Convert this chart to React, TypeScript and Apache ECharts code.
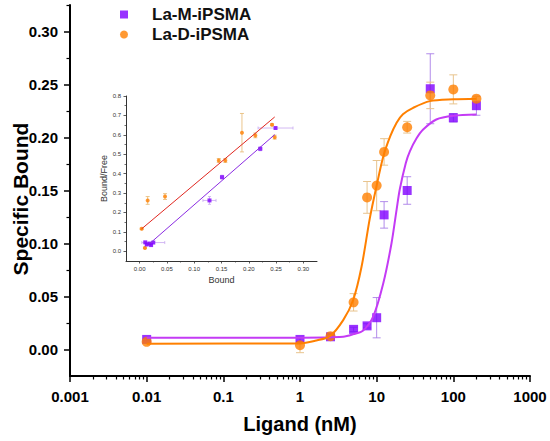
import React, { useEffect, useRef } from "react";
import * as echarts from "echarts";

// ---- Main chart data (Ligand concentration in nM vs Specific Bound) ----
const ligandNM = [0.01, 1, 2.5, 5, 7.5, 10, 12.5, 25, 50, 100, 200];
const laMBound = [0.0095, 0.0095, 0.012, 0.019, 0.0223, 0.03, 0.127, 0.15, 0.246, 0.2186, 0.23];
const laMErr = [0.001, 0.002, 0.002, 0.002, 0.002, 0.019, 0.0125, 0.013, 0.033, 0.004, 0.009];
const laDBound = [0.0072, 0.004, 0.0126, 0.0445, 0.1435, 0.1546, 0.1864, 0.2097, 0.2397, 0.2454, 0.2366];
const laDErr = [0.001, 0.007, 0.002, 0.0082, 0.015, 0.0237, 0.0125, 0.0055, 0.0125, 0.0137, 0.002];

// fitted curves
const laMFitX = [0.01, 1, 3.66, 5, 6.67, 9, 12.2, 15.6, 18.2, 20, 24, 27.1, 33, 40.4, 60, 100, 200];
const laMFitY = [0.0112, 0.0112, 0.012, 0.0145, 0.018, 0.031, 0.0625, 0.1, 0.132, 0.151, 0.176, 0.187, 0.199, 0.2075, 0.217, 0.2205, 0.2217];
const laDFitX = [0.01, 1, 1.57, 2.45, 3.66, 4.94, 6.35, 8.15, 9.95, 12.2, 15, 18.2, 22, 29.9, 49.4, 100, 200];
const laDFitY = [0.0055, 0.0057, 0.0082, 0.0126, 0.0277, 0.0467, 0.078, 0.124, 0.154, 0.182, 0.201, 0.214, 0.222, 0.228, 0.2343, 0.236, 0.2366];

// axis ticks
const xMinorTicks = [
  0.002, 0.003, 0.004, 0.005, 0.006, 0.007, 0.008, 0.009,
  0.02, 0.03, 0.04, 0.05, 0.06, 0.07, 0.08, 0.09,
  0.2, 0.3, 0.4, 0.5, 0.6, 0.7, 0.8, 0.9,
  2, 3, 4, 5, 6, 7, 8, 9,
  20, 30, 40, 50, 60, 70, 80, 90,
  200, 300, 400, 500, 600, 700, 800, 900,
];
const yTicks = [0, 0.05, 0.1, 0.15, 0.2, 0.25, 0.3];
const yMinorTicks = [0.025, 0.075, 0.125, 0.175, 0.225, 0.275, 0.325];

// ---- Inset (Scatchard plot) data ----
const dBoundX = [0.0037, 0.0097, 0.0147, 0.0465, 0.145, 0.157, 0.1875, 0.212, 0.2426, 0.2475];
const dRatioY = [0.1156, 0.0175, 0.262, 0.282, 0.468, 0.468, 0.611, 0.597, 0.652, 0.588];
const dRatioErr = [0.004, 0.004, 0.02, 0.015, 0.01, 0.01, 0.099, 0.012, 0.005, 0.01];
const mBoundX = [0.0103, 0.013, 0.018, 0.021, 0.025, 0.128, 0.151, 0.221, 0.249];
const mRatioY = [0.046, 0.035, 0.04, 0.032, 0.045, 0.262, 0.382, 0.528, 0.635];
const mBoundErr = [0.002, 0.002, 0.002, 0.002, 0.021, 0.012, 0.003, 0.003, 0.032];
const mRatioErr = [0.005, 0.005, 0.005, 0.005, 0.005, 0.02, 0.01, 0.01, 0.005];
const dLineX = [0.0037, 0.2475];
const dLineY = [0.1156, 0.692];
const mLineX = [0.0177, 0.2475];
const mLineY = [0.038, 0.601];

const insetXTicks = [0, 0.05, 0.1, 0.15, 0.2, 0.25, 0.3];
const insetXMinor = [0.025, 0.075, 0.125, 0.175, 0.225, 0.275];
const insetYTicks = [0, 0.1, 0.2, 0.3, 0.4, 0.5, 0.6, 0.7, 0.8];
const insetYMinor = [0.05, 0.15, 0.25, 0.35, 0.45, 0.55, 0.65, 0.75];

const FONT = "'Liberation Sans', Arial, sans-serif";
const PURPLE = "#7f00ff";
const PURPLE_FIT = "#c43bf5";
const ORANGE = "#ff8000";

const zip = (a: number[], b: number[]) => a.map((v, i) => [v, b[i]]);

function errorBars(
  name: string,
  xs: number[],
  ys: number[],
  errs: number[],
  dir: "v" | "h",
  color: string,
  xi: number,
  yi: number,
  cap: number,
  width: number
) {
  return {
    type: "custom",
    name,
    xAxisIndex: xi,
    yAxisIndex: yi,
    silent: true,
    data: xs.map((x, i) => [x, ys[i], errs[i]]),
    encode: { x: 0, y: 1 },
    renderItem: (_p: any, api: any) => {
      const x = api.value(0);
      const y = api.value(1);
      const e = api.value(2);
      const a = dir === "v" ? api.coord([x, y + e]) : api.coord([x - e, y]);
      const b = dir === "v" ? api.coord([x, y - e]) : api.coord([x + e, y]);
      const style = { stroke: color, lineWidth: width };
      const caps =
        dir === "v"
          ? [
              { type: "line", shape: { x1: a[0] - cap, y1: a[1], x2: a[0] + cap, y2: a[1] }, style },
              { type: "line", shape: { x1: b[0] - cap, y1: b[1], x2: b[0] + cap, y2: b[1] }, style },
            ]
          : [
              { type: "line", shape: { x1: a[0], y1: a[1] - cap, x2: a[0], y2: a[1] + cap }, style },
              { type: "line", shape: { x1: b[0], y1: b[1] - cap, x2: b[0], y2: b[1] + cap }, style },
            ];
      return {
        type: "group",
        children: [
          { type: "line", shape: { x1: a[0], y1: a[1], x2: b[0], y2: b[1] }, style },
          ...caps,
        ],
      };
    },
  };
}

export default function App() {
  const ref = useRef<HTMLDivElement>(null);

  useEffect(() => {
    if (!ref.current) return;
    const chart = echarts.init(ref.current, undefined, { renderer: "svg" });

    const mainLabel = { fontFamily: FONT, fontSize: 15, fontWeight: "bold", color: "#000" };
    const insetLabel = { fontFamily: FONT, fontSize: 6, color: "#333" };

    const option: any = {
      animation: false,
      backgroundColor: "#fff",
      textStyle: { fontFamily: FONT },
      legend: {
        orient: "vertical",
        left: 115,
        top: 1,
        itemWidth: 8,
        itemHeight: 8,
        itemGap: 3,
        data: ["La-M-iPSMA", "La-D-iPSMA"],
        textStyle: { fontFamily: FONT, fontSize: 17, fontWeight: "bold", color: "#111", padding: [0, 0, 0, 19] },
      },
      graphic: [
        {
          type: "text",
          x: 20,
          y: 199,
          rotation: Math.PI / 2,
          style: {
            text: "Specific Bound",
            fontFamily: FONT,
            fontSize: 21,
            fontWeight: "bold",
            fill: "#000",
            align: "center",
            verticalAlign: "middle",
          },
        },
      ],
      grid: [
        { left: 70, right: 20, top: 5, bottom: 65 },
        { left: 126, right: 233, top: 96, bottom: 180 },
      ],
      xAxis: [
        {
          type: "log",
          logBase: 10,
          gridIndex: 0,
          position: "bottom",
          min: 0.001,
          max: 1000,
          splitNumber: 6,
          name: "Ligand (nM)",
          nameLocation: "middle",
          nameGap: 38,
          nameTextStyle: { fontFamily: FONT, fontSize: 20, fontWeight: "bold", color: "#000" },
          axisLine: { onZero: false, lineStyle: { color: "#000", width: 2 } },
          axisTick: { length: 6, lineStyle: { color: "#000", width: 1.5 } },
          axisLabel: { ...mainLabel, margin: 13, formatter: (v: number) => String(v) },
          splitLine: { show: false },
        },
        {
          type: "log",
          logBase: 10,
          gridIndex: 0,
          position: "bottom",
          min: 0.001,
          max: 1000,
          axisLine: { show: false, onZero: false },
          axisTick: { length: 3.5, customValues: xMinorTicks, lineStyle: { color: "#000", width: 1.2 } },
          axisLabel: { show: false },
          splitLine: { show: false },
        },
        {
          type: "value",
          gridIndex: 1,
          position: "bottom",
          min: -0.025,
          max: 0.325,
          name: "Bound",
          nameLocation: "middle",
          nameGap: 14,
          nameTextStyle: { fontFamily: FONT, fontSize: 9, color: "#333" },
          axisLine: { onZero: false, lineStyle: { color: "#333", width: 1 } },
          axisTick: { length: 2.5, customValues: insetXTicks, lineStyle: { color: "#333", width: 0.8 } },
          axisLabel: { ...insetLabel, margin: 5, customValues: insetXTicks, formatter: (v: number) => v.toFixed(2) },
          splitLine: { show: false },
        },
        {
          type: "value",
          gridIndex: 1,
          position: "bottom",
          min: -0.025,
          max: 0.325,
          axisLine: { show: false, onZero: false },
          axisTick: { length: 1.5, customValues: insetXMinor, lineStyle: { color: "#333", width: 0.7 } },
          axisLabel: { show: false },
          splitLine: { show: false },
        },
      ],
      yAxis: [
        {
          type: "value",
          gridIndex: 0,
          position: "left",
          min: -0.025,
          max: 0.325,
          axisLine: { onZero: false, lineStyle: { color: "#000", width: 2 } },
          axisTick: { length: 6, customValues: yTicks, lineStyle: { color: "#000", width: 1.5 } },
          axisLabel: { ...mainLabel, margin: 12, customValues: yTicks, formatter: (v: number) => v.toFixed(2) },
          splitLine: { show: false },
        },
        {
          type: "value",
          gridIndex: 0,
          position: "left",
          min: -0.025,
          max: 0.325,
          axisLine: { show: false, onZero: false },
          axisTick: { length: 3.5, customValues: yMinorTicks, lineStyle: { color: "#000", width: 1.2 } },
          axisLabel: { show: false },
          splitLine: { show: false },
        },
        {
          type: "value",
          gridIndex: 1,
          position: "left",
          min: -0.05,
          max: 0.8,
          name: "Bound/Free",
          nameLocation: "middle",
          nameGap: 15,
          nameTextStyle: { fontFamily: FONT, fontSize: 9, color: "#333" },
          axisLine: { onZero: false, lineStyle: { color: "#333", width: 1 } },
          axisTick: { length: 2.5, customValues: insetYTicks, lineStyle: { color: "#333", width: 0.8 } },
          axisLabel: { ...insetLabel, margin: 5, customValues: insetYTicks, formatter: (v: number) => v.toFixed(1) },
          splitLine: { show: false },
        },
        {
          type: "value",
          gridIndex: 1,
          position: "left",
          min: -0.05,
          max: 0.8,
          axisLine: { show: false, onZero: false },
          axisTick: { length: 1.5, customValues: insetYMinor, lineStyle: { color: "#333", width: 0.7 } },
          axisLabel: { show: false },
          splitLine: { show: false },
        },
      ],
      series: [
        errorBars("La-M err", ligandNM, laMBound, laMErr, "v", "rgba(165,120,230,0.85)", 0, 0, 4, 1),
        errorBars("La-D err", ligandNM, laDBound, laDErr, "v", "#e8c48e", 0, 0, 4, 1),
        {
          type: "line",
          name: "La-M fit",
          xAxisIndex: 0,
          yAxisIndex: 0,
          data: zip(laMFitX, laMFitY),
          smooth: 0.3,
          showSymbol: false,
          symbol: "none",
          lineStyle: { color: PURPLE_FIT, width: 2 },
          silent: true,
        },
        {
          type: "line",
          name: "La-D fit",
          xAxisIndex: 0,
          yAxisIndex: 0,
          data: zip(laDFitX, laDFitY),
          smooth: 0.3,
          showSymbol: false,
          symbol: "none",
          lineStyle: { color: ORANGE, width: 2 },
          silent: true,
        },
        {
          type: "scatter",
          name: "La-M-iPSMA",
          xAxisIndex: 0,
          yAxisIndex: 0,
          symbol: "rect",
          symbolSize: 9,
          itemStyle: { color: PURPLE },
          data: zip(ligandNM, laMBound),
        },
        {
          type: "scatter",
          name: "La-D-iPSMA",
          xAxisIndex: 0,
          yAxisIndex: 0,
          symbol: "circle",
          symbolSize: 10,
          itemStyle: { color: ORANGE },
          data: zip(ligandNM, laDBound),
        },
        // inset
        {
          type: "line",
          name: "La-D Scatchard fit",
          xAxisIndex: 2,
          yAxisIndex: 2,
          data: zip(dLineX, dLineY),
          showSymbol: false,
          symbol: "none",
          lineStyle: { color: "#e0261f", width: 1 },
          silent: true,
        },
        {
          type: "line",
          name: "La-M Scatchard fit",
          xAxisIndex: 2,
          yAxisIndex: 2,
          data: zip(mLineX, mLineY),
          showSymbol: false,
          symbol: "none",
          lineStyle: { color: "#8a2be2", width: 1 },
          silent: true,
        },
        errorBars("La-D inset err", dBoundX, dRatioY, dRatioErr, "v", "#e6b870", 2, 2, 2, 0.8),
        errorBars("La-M inset xerr", mBoundX, mRatioY, mBoundErr, "h", "#c8a8f0", 2, 2, 1.5, 0.8),
        errorBars("La-M inset yerr", mBoundX, mRatioY, mRatioErr, "v", "#c8a8f0", 2, 2, 1.5, 0.8),
        {
          type: "scatter",
          name: "La-D Scatchard",
          xAxisIndex: 2,
          yAxisIndex: 2,
          symbol: "circle",
          symbolSize: 4,
          itemStyle: { color: ORANGE },
          data: zip(dBoundX, dRatioY),
        },
        {
          type: "scatter",
          name: "La-M Scatchard",
          xAxisIndex: 2,
          yAxisIndex: 2,
          symbol: "rect",
          symbolSize: 4,
          itemStyle: { color: PURPLE },
          data: zip(mBoundX, mRatioY),
        },
      ],
    };

    chart.setOption(option);
    return () => chart.dispose();
  }, []);

  return (
    <div
      ref={ref}
      style={{ position: "fixed", left: 0, top: 0, width: 550, height: 441, background: "#fff" }}
    />
  );
}
